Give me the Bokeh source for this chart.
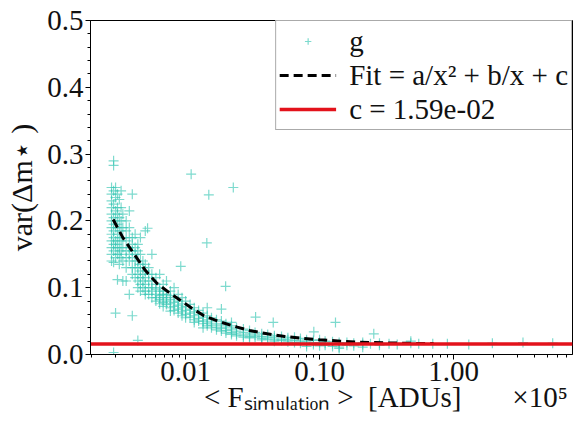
from bokeh.plotting import figure
from bokeh.models import (Range1d, FixedTicker, CustomJSTickFormatter, Legend, LegendItem,
                          ColumnDataSource)
from bokeh.embed import file_html
from bokeh.resources import INLINE

# ---------------- data ----------------
x_range_min = 0.00195
x_range_max = 7.73
y_range_min = 0.0
y_range_max = 0.5

c_value = 0.0159

# fit curve
fit_x = [0.00288, 0.0034, 0.00411, 0.0050, 0.00615, 0.0075, 0.00918, 0.011, 0.0137,
         0.018, 0.0243, 0.030, 0.0407, 0.055, 0.0721, 0.10, 0.1435, 0.20, 0.30, 0.45, 0.71]
fit_y = [0.202, 0.175, 0.151, 0.126, 0.106, 0.093, 0.081, 0.070, 0.058,
         0.049, 0.041, 0.036, 0.031, 0.027, 0.0245, 0.022, 0.020, 0.0185, 0.0175, 0.0168, 0.0163]

# scatter "g": columns of points (x) with their y values
col_x = [0.0028, 0.0029, 0.0030, 0.0031, 0.0032, 0.0033, 0.0034, 0.0036, 0.0038, 0.0040,
         0.0042, 0.0044, 0.0046, 0.0048, 0.0050, 0.0053, 0.0056, 0.0060, 0.0064, 0.0068,
         0.0072, 0.0077, 0.0082, 0.0088, 0.0094, 0.0100, 0.0108, 0.0116, 0.0125, 0.0135,
         0.0145, 0.0156, 0.0170, 0.0185, 0.0200, 0.0220, 0.0240, 0.0270, 0.0300, 0.0330,
         0.0370, 0.0410, 0.0460, 0.0520, 0.0580, 0.0650, 0.0720, 0.0800, 0.0900, 0.1000,
         0.1100, 0.1250, 0.1400, 0.1600, 0.1800, 0.2100, 0.2400, 0.2800, 0.3300, 0.3800,
         0.4800, 0.5500, 0.7000, 0.9000, 1.3000, 1.9500, 3.3000, 5.5000]
col_y = [
    [0.25, 0.24, 0.23, 0.22, 0.21, 0.20, 0.19, 0.18, 0.17, 0.16, 0.15, 0.14],
    [0.245, 0.225, 0.205, 0.195, 0.185, 0.175, 0.165, 0.155, 0.138],
    [0.25, 0.235, 0.215, 0.20, 0.19, 0.17, 0.16, 0.145],
    [0.24, 0.22, 0.21, 0.195, 0.18, 0.165, 0.15, 0.112],
    [0.232, 0.205, 0.19, 0.175, 0.16, 0.15, 0.135],
    [0.245, 0.22, 0.20, 0.185, 0.17, 0.155, 0.145],
    [0.21, 0.19, 0.175, 0.16, 0.14, 0.11],
    [0.20, 0.185, 0.17, 0.155, 0.145, 0.13, 0.11],
    [0.215, 0.19, 0.175, 0.16, 0.15, 0.14, 0.09],
    [0.24, 0.175, 0.165, 0.155, 0.145, 0.13, 0.12],
    [0.18, 0.16, 0.15, 0.14, 0.13, 0.115],
    [0.165, 0.155, 0.14, 0.13, 0.12, 0.11, 0.10],
    [0.175, 0.15, 0.135, 0.125, 0.115, 0.105, 0.095],
    [0.14, 0.13, 0.12, 0.11, 0.10],
    [0.185, 0.135, 0.125, 0.115, 0.105, 0.095, 0.09],
    [0.13, 0.12, 0.11, 0.10, 0.09],
    [0.15, 0.12, 0.11, 0.10, 0.095, 0.085],
    [0.115, 0.105, 0.098, 0.09, 0.085, 0.08],
    [0.12, 0.10, 0.095, 0.088, 0.082, 0.076],
    [0.105, 0.095, 0.09, 0.085, 0.078, 0.072],
    [0.11, 0.09, 0.085, 0.08, 0.075],
    [0.095, 0.088, 0.082, 0.076, 0.07, 0.065],
    [0.10, 0.085, 0.078, 0.072, 0.066],
    [0.09, 0.08, 0.074, 0.068, 0.062],
    [0.085, 0.076, 0.07, 0.064, 0.058],
    [0.08, 0.072, 0.066, 0.06, 0.055],
    [0.075, 0.068, 0.062, 0.056],
    [0.07, 0.064, 0.058, 0.052, 0.048],
    [0.066, 0.06, 0.054, 0.05],
    [0.062, 0.056, 0.05, 0.046, 0.04],
    [0.07, 0.058, 0.052, 0.047, 0.043],
    [0.055, 0.049, 0.044, 0.04],
    [0.052, 0.046, 0.041, 0.037],
    [0.05, 0.044, 0.039, 0.035],
    [0.046, 0.041, 0.036, 0.032],
    [0.048, 0.043, 0.038, 0.033, 0.03],
    [0.04, 0.035, 0.031, 0.028],
    [0.038, 0.033, 0.029, 0.026],
    [0.036, 0.031, 0.027, 0.025],
    [0.033, 0.029, 0.026],
    [0.031, 0.027, 0.024, 0.022],
    [0.03, 0.026, 0.023],
    [0.028, 0.025, 0.022, 0.02],
    [0.027, 0.023, 0.021],
    [0.025, 0.022, 0.019],
    [0.026, 0.021, 0.018],
    [0.024, 0.02, 0.017],
    [0.022, 0.019, 0.016, 0.012],
    [0.021, 0.018, 0.015],
    [0.022, 0.018, 0.013],
    [0.02, 0.017, 0.014],
    [0.019, 0.016, 0.012],
    [0.018, 0.015, 0.011, 0.009],
    [0.018, 0.014],
    [0.017, 0.013],
    [0.018, 0.015, 0.011],
    [0.016],
    [0.017, 0.014],
    [0.016],
    [0.015],
    [0.017, 0.02],
    [0.016],
    [0.016],
    [0.016],
    [0.015],
    [0.017],
    [0.018],
    [0.017],
]

# isolated points
out_x = [0.0029, 0.0029, 0.0110, 0.0227, 0.0149, 0.0144, 0.0199, 0.0092, 0.0052, 0.0030,
         0.0040, 0.0451, 0.0333, 0.0044, 0.0029, 0.1315, 0.254, 0.0906, 0.0185]
out_y = [0.290, 0.283, 0.270, 0.250, 0.239, 0.167, 0.102, 0.132, 0.189, 0.062,
         0.058, 0.048, 0.056, 0.021, 0.003, 0.048, 0.031, 0.034, 0.068]

y_ticks = [0.0, 0.1, 0.2, 0.3, 0.4, 0.5]
x_ticks = [0.01, 0.1, 1.0]

legend_labels = ["g", "Fit = a/x\u00b2 + b/x + c", "c = 1.59e-02"]

NB = "\u00a0"
x_label = (NB * 15 + "< F\u209b\u1d62\u2098\u1d64\u2097\u2090\u209c\u1d62\u2092\u2099 >" + NB * 2
           + "[ADUs]" + NB * 7 + "\u00d710\u2075")
y_label = "var(\u0394m\u22c6 )"

# ---------------- build ----------------
g_x = []
g_y = []
for xv, ys in zip(col_x, col_y):
    for yv in ys:
        g_x.append(xv)
        g_y.append(yv)
g_x += out_x
g_y += out_y

FONT = "serif"

p = figure(width=573, height=422, x_axis_type="log",
           x_range=Range1d(x_range_min, x_range_max),
           y_range=Range1d(y_range_min, y_range_max),
           output_backend="svg", toolbar_location=None,
           min_border_left=90, min_border_right=1, min_border_top=20, min_border_bottom=68)
p.background_fill_color = "white"
p.border_fill_color = "white"
p.outline_line_color = "black"
p.outline_line_width = 1
p.xgrid.visible = False
p.ygrid.visible = False

src = ColumnDataSource(dict(x=g_x, y=g_y))
r_g = p.scatter("x", "y", source=src, marker="cross", size=10,
                line_color="#38c6b4", line_alpha=0.65, line_width=1.2)
r_fit = p.line(fit_x, fit_y, line_color="black", line_width=3, line_dash="9 5")
r_c = p.line([x_range_min, x_range_max], [c_value, c_value], line_color="#e3121b", line_width=3.5)

# axes
minor_x = []
for dec in [0.001, 0.01, 0.1, 1.0]:
    for k in range(2, 10):
        minor_x.append(round(dec * k, 6))
p.xaxis.ticker = FixedTicker(ticks=x_ticks, minor_ticks=minor_x)
p.xaxis.formatter = CustomJSTickFormatter(code="return tick.toFixed(2);")
minor_y = [round(i * 0.02, 2) for i in range(0, 26)]
p.yaxis.ticker = FixedTicker(ticks=y_ticks, minor_ticks=minor_y)
p.yaxis.formatter = CustomJSTickFormatter(code="return tick.toFixed(1);")

for ax in (p.xaxis[0], p.yaxis[0]):
    ax.axis_line_color = "black"
    ax.major_tick_line_color = "black"
    ax.minor_tick_line_color = "black"
    ax.major_tick_in = 0
    ax.major_tick_out = 5
    ax.minor_tick_in = 0
    ax.minor_tick_out = 3
    ax.major_label_text_font = FONT
    ax.major_label_text_font_size = "29px"
    ax.major_label_text_color = "#111111"
    ax.axis_label_text_font = FONT
    ax.axis_label_text_font_style = "normal"
    ax.axis_label_text_color = "#111111"
p.xaxis.major_label_standoff = 2
p.yaxis.major_label_standoff = 2

p.xaxis.axis_label = x_label
p.xaxis.axis_label_text_font_size = "29px"
p.xaxis.axis_label_standoff = -3
p.yaxis.axis_label = y_label
p.yaxis.axis_label_text_font_size = "30px"
p.yaxis.axis_label_standoff = 6

legend = Legend(items=[LegendItem(label=legend_labels[0], renderers=[r_g]),
                       LegendItem(label=legend_labels[1], renderers=[r_fit]),
                       LegendItem(label=legend_labels[2], renderers=[r_c])],
                location="top_right", margin=0, padding=3, spacing=0,
                label_height=34, glyph_height=16, glyph_width=57, label_standoff=13,
                label_text_font=FONT, label_text_font_size="29px", label_text_color="#111111",
                border_line_color="#555555", border_line_width=1,
                background_fill_color="white", background_fill_alpha=1.0)
p.add_layout(legend)

open("out.html", "w").write(file_html(p, INLINE))
